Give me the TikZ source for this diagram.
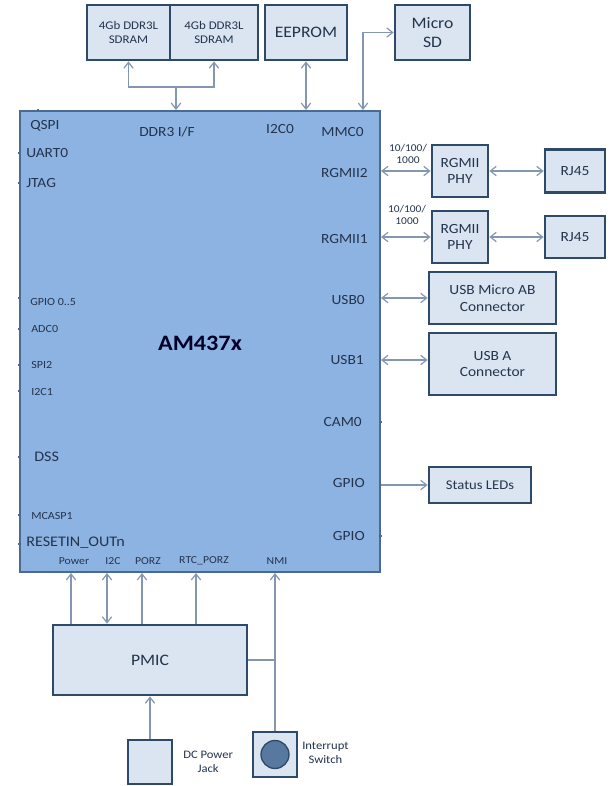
\documentclass[tikz,border=0pt]{standalone}
\usepackage{fontspec}
\setmainfont{Carlito}[FakeStretch=1.1]
\usetikzlibrary{arrows.meta}
\definecolor{mainfill}{HTML}{8DB3E2}
\definecolor{mainedge}{HTML}{4A6B8F}
\definecolor{boxfill}{HTML}{DBE5F1}
\definecolor{boxedge}{HTML}{2F4A66}
\definecolor{arrc}{HTML}{8497B0}
\definecolor{txt}{HTML}{24344D}
\newcommand{\fs}[1]{\fontsize{#1pt}{\the\dimexpr #1pt*6/5\relax}\selectfont}
\tikzset{
  box/.style={draw=boxedge, fill=boxfill, line width=2pt, align=center, text=txt, inner sep=1pt},
  chip/.style={draw=mainedge, fill=mainfill, line width=1.5pt},
  conn/.style={draw=arrc, line width=0.9pt},
  bi/.style={conn, {Straight Barb[length=4.5pt, width=7pt]}-{Straight Barb[length=4.5pt, width=7pt]}},
  fwd/.style={conn, -{Straight Barb[length=4.5pt, width=7pt]}},
  bwd/.style={conn, {Straight Barb[length=4.5pt, width=7pt]}-},
  lab/.style={text=txt, inner sep=0pt, font=\fs{10.5}},
  slab/.style={text=txt, inner sep=0pt, font=\fs{8.2}},
  blab/.style={text=txt, inner sep=0pt, font=\fs{8}},
  stub/.style={draw=mainedge, line width=1pt},
}
\begin{document}
\begin{tikzpicture}[x=0.75pt, y=-0.75pt]
\useasboundingbox[fill=white] (0,0) rectangle (612,786);

% main chip
\node[chip, minimum width=360*0.75pt, minimum height=461*0.75pt, inner sep=0pt] (main) at (200,341.5) {};
\node[text=black!85!blue, font=\fs{16.5}\bfseries, inner sep=0pt] (am) at (200,343) {AM437x};

% small stubs on the chip edges
\foreach \yy in {153,183,298,329,365,391,457,515,544}
  \draw[stub] (18,\yy) -- (20,\yy);
\draw[stub] (38,109) -- (38,111);
\foreach \yy in {422,536}
  \draw[stub] (380,\yy) -- (382,\yy);

% top boxes
\node[box, minimum width=83*0.75pt, minimum height=55*0.75pt, font=\fs{8.8}] (sd1) at (128.5,32.5) {4Gb DDR3L\\SDRAM};
\node[box, minimum width=88*0.75pt, minimum height=55*0.75pt, font=\fs{8.8}] (sd2) at (214,32.5) {4Gb DDR3L\\SDRAM};
\node[box, minimum width=82*0.75pt, minimum height=55*0.75pt, font=\fs{12}] (eeprom) at (306,32.5) {EEPROM};
\node[box, minimum width=75*0.75pt, minimum height=55*0.75pt, font=\fs{12}] (microsd) at (432.5,32.5) {Micro\\SD};

% right boxes
\node[box, minimum width=56*0.75pt, minimum height=52*0.75pt, font=\fs{10.5}] (phy2) at (460,171) {RGMII\\PHY};
\node[box, minimum width=60*0.75pt, minimum height=43*0.75pt, font=\fs{10.5}] (rj2) at (575,171) {RJ45};
\node[box, minimum width=56*0.75pt, minimum height=52*0.75pt, font=\fs{10.5}] (phy1) at (460,237) {RGMII\\PHY};
\node[box, minimum width=60*0.75pt, minimum height=42*0.75pt, font=\fs{10.5}] (rj1) at (575,237) {RJ45};
\node[box, minimum width=127*0.75pt, minimum height=52*0.75pt, font=\fs{10.5}] (usbab) at (492.5,298) {USB Micro AB\\Connector};
\node[box, minimum width=127*0.75pt, minimum height=62*0.75pt, font=\fs{10.5}] (usba) at (492.5,364) {USB A\\Connector};
\node[box, minimum width=102*0.75pt, minimum height=36*0.75pt, font=\fs{10}] (leds) at (480,485) {Status LEDs};

% bottom boxes
\node[box, minimum width=194*0.75pt, minimum height=70*0.75pt, font=\fs{12}] (pmic) at (150,660) {PMIC};
\node[box, minimum width=44*0.75pt, minimum height=44*0.75pt] (dc) at (150,762) {};
\node[box, minimum width=44*0.75pt, minimum height=45*0.75pt] (sw) at (275,754.5) {};
\fill[fill=mainedge!80!mainfill, draw=boxedge, line width=1pt] (sw.center) circle[radius=14*0.75pt];
\node[slab, font=\fs{8.6}, align=center, anchor=west] (dclab) at (183,762) {DC Power\\Jack};
\node[slab, font=\fs{8.6}, align=center, anchor=west] (swlab) at (302,753) {Interrupt\\Switch};

% chip labels: left
\node[lab, anchor=west] (qspi) at (30,126) {QSPI};
\node[lab, anchor=west] (uart) at (26,153) {UART0};
\node[lab, anchor=west] (jtag) at (26,183) {JTAG};
\node[slab, anchor=west] (gpio05) at (30,302) {GPIO 0..5};
\node[slab, anchor=west] (adc) at (31,329) {ADC0};
\node[slab, anchor=west] (spi) at (31,365) {SPI2};
\node[slab, anchor=west] (i2c1) at (31,392) {I2C1};
\node[lab, font=\fs{11}, anchor=west] (dss) at (34,457) {DSS};
\node[slab, anchor=west] (mcasp) at (31,516) {MCASP1};
\node[lab, font=\fs{11}, anchor=west] (reset) at (26,543) {RESETIN\_OUTn};
% top
\node[lab] (ddrif) at (167,132) {DDR3 I/F};
\node[lab] (i2c0) at (280,129) {I2C0};
\node[lab, anchor=east] (mmc0) at (364,132) {MMC0};
% right
\node[lab, anchor=east] (rg2) at (368,173) {RGMII2};
\node[lab, anchor=east] (rg1) at (368,239) {RGMII1};
\node[lab, anchor=east] (usb0) at (365,300) {USB0};
\node[lab, anchor=east] (usb1) at (364,360) {USB1};
\node[lab, anchor=east] (cam0) at (362,422) {CAM0};
\node[lab, anchor=east] (gpio1) at (365,483) {GPIO};
\node[lab, anchor=east] (gpio2) at (365,536) {GPIO};
% bottom
\node[blab] (pw) at (74,561) {Power};
\node[blab] (i2cb) at (113,561) {I2C};
\node[blab] (porz) at (148,561) {PORZ};
\node[blab] (rtc) at (204,561) {RTC\_PORZ};
\node[blab] (nmi) at (277,561) {NMI};

% speed labels
\node[slab, font=\fs{7.8}, align=center] (sp2) at (408,154) {10/100/\\1000};
\node[slab, font=\fs{7.8}, align=center] (sp1) at (407,215) {10/100/\\1000};

% connectors: top
\coordinate (ddrj) at (176,87);
\draw[bwd] (sd1.south) |- (ddrj);
\draw[bwd] (sd2.south) |- (ddrj);
\draw[fwd] (ddrj) -- (ddrj |- main.north);
\draw[bi] (eeprom.south) -- (eeprom.south |- main.north);
\coordinate (mmct) at (363,32.5);
\draw[bi] (mmct |- main.north) -- (mmct) -- (microsd.west);

% right
\draw[bi] (main.east |- phy2.west) -- (phy2.west);
\draw[bi] (phy2.east) -- (rj2.west);
\draw[bi] (main.east |- phy1.west) -- (phy1.west);
\draw[bi] (phy1.east) -- (rj1.west);
\draw[bi] (main.east |- usbab.west) -- (usbab.west);
\coordinate (u1) at (400,360);
\draw[bi] (main.east |- u1) -- (usba.west |- u1);
\draw[fwd] (main.east |- leds.west) -- (leds.west);

% bottom
\coordinate (xpw) at (71,0);
\coordinate (xi2c) at (107,0);
\coordinate (xporz) at (142,0);
\coordinate (xrtc) at (196,0);
\draw[fwd] (pmic.north -| xpw) -- (main.south -| xpw);
\draw[bi] (pmic.north -| xi2c) -- (main.south -| xi2c);
\draw[fwd] (pmic.north -| xporz) -- (main.south -| xporz);
\draw[fwd] (pmic.north -| xrtc) -- (main.south -| xrtc);
\draw[fwd] (sw.north) -- (main.south -| sw.north);
\draw[conn] (pmic.east) -- (pmic.east -| sw.north);
\draw[fwd] (dc.north) -- (pmic.south -| dc.north);
\end{tikzpicture}
\end{document}
